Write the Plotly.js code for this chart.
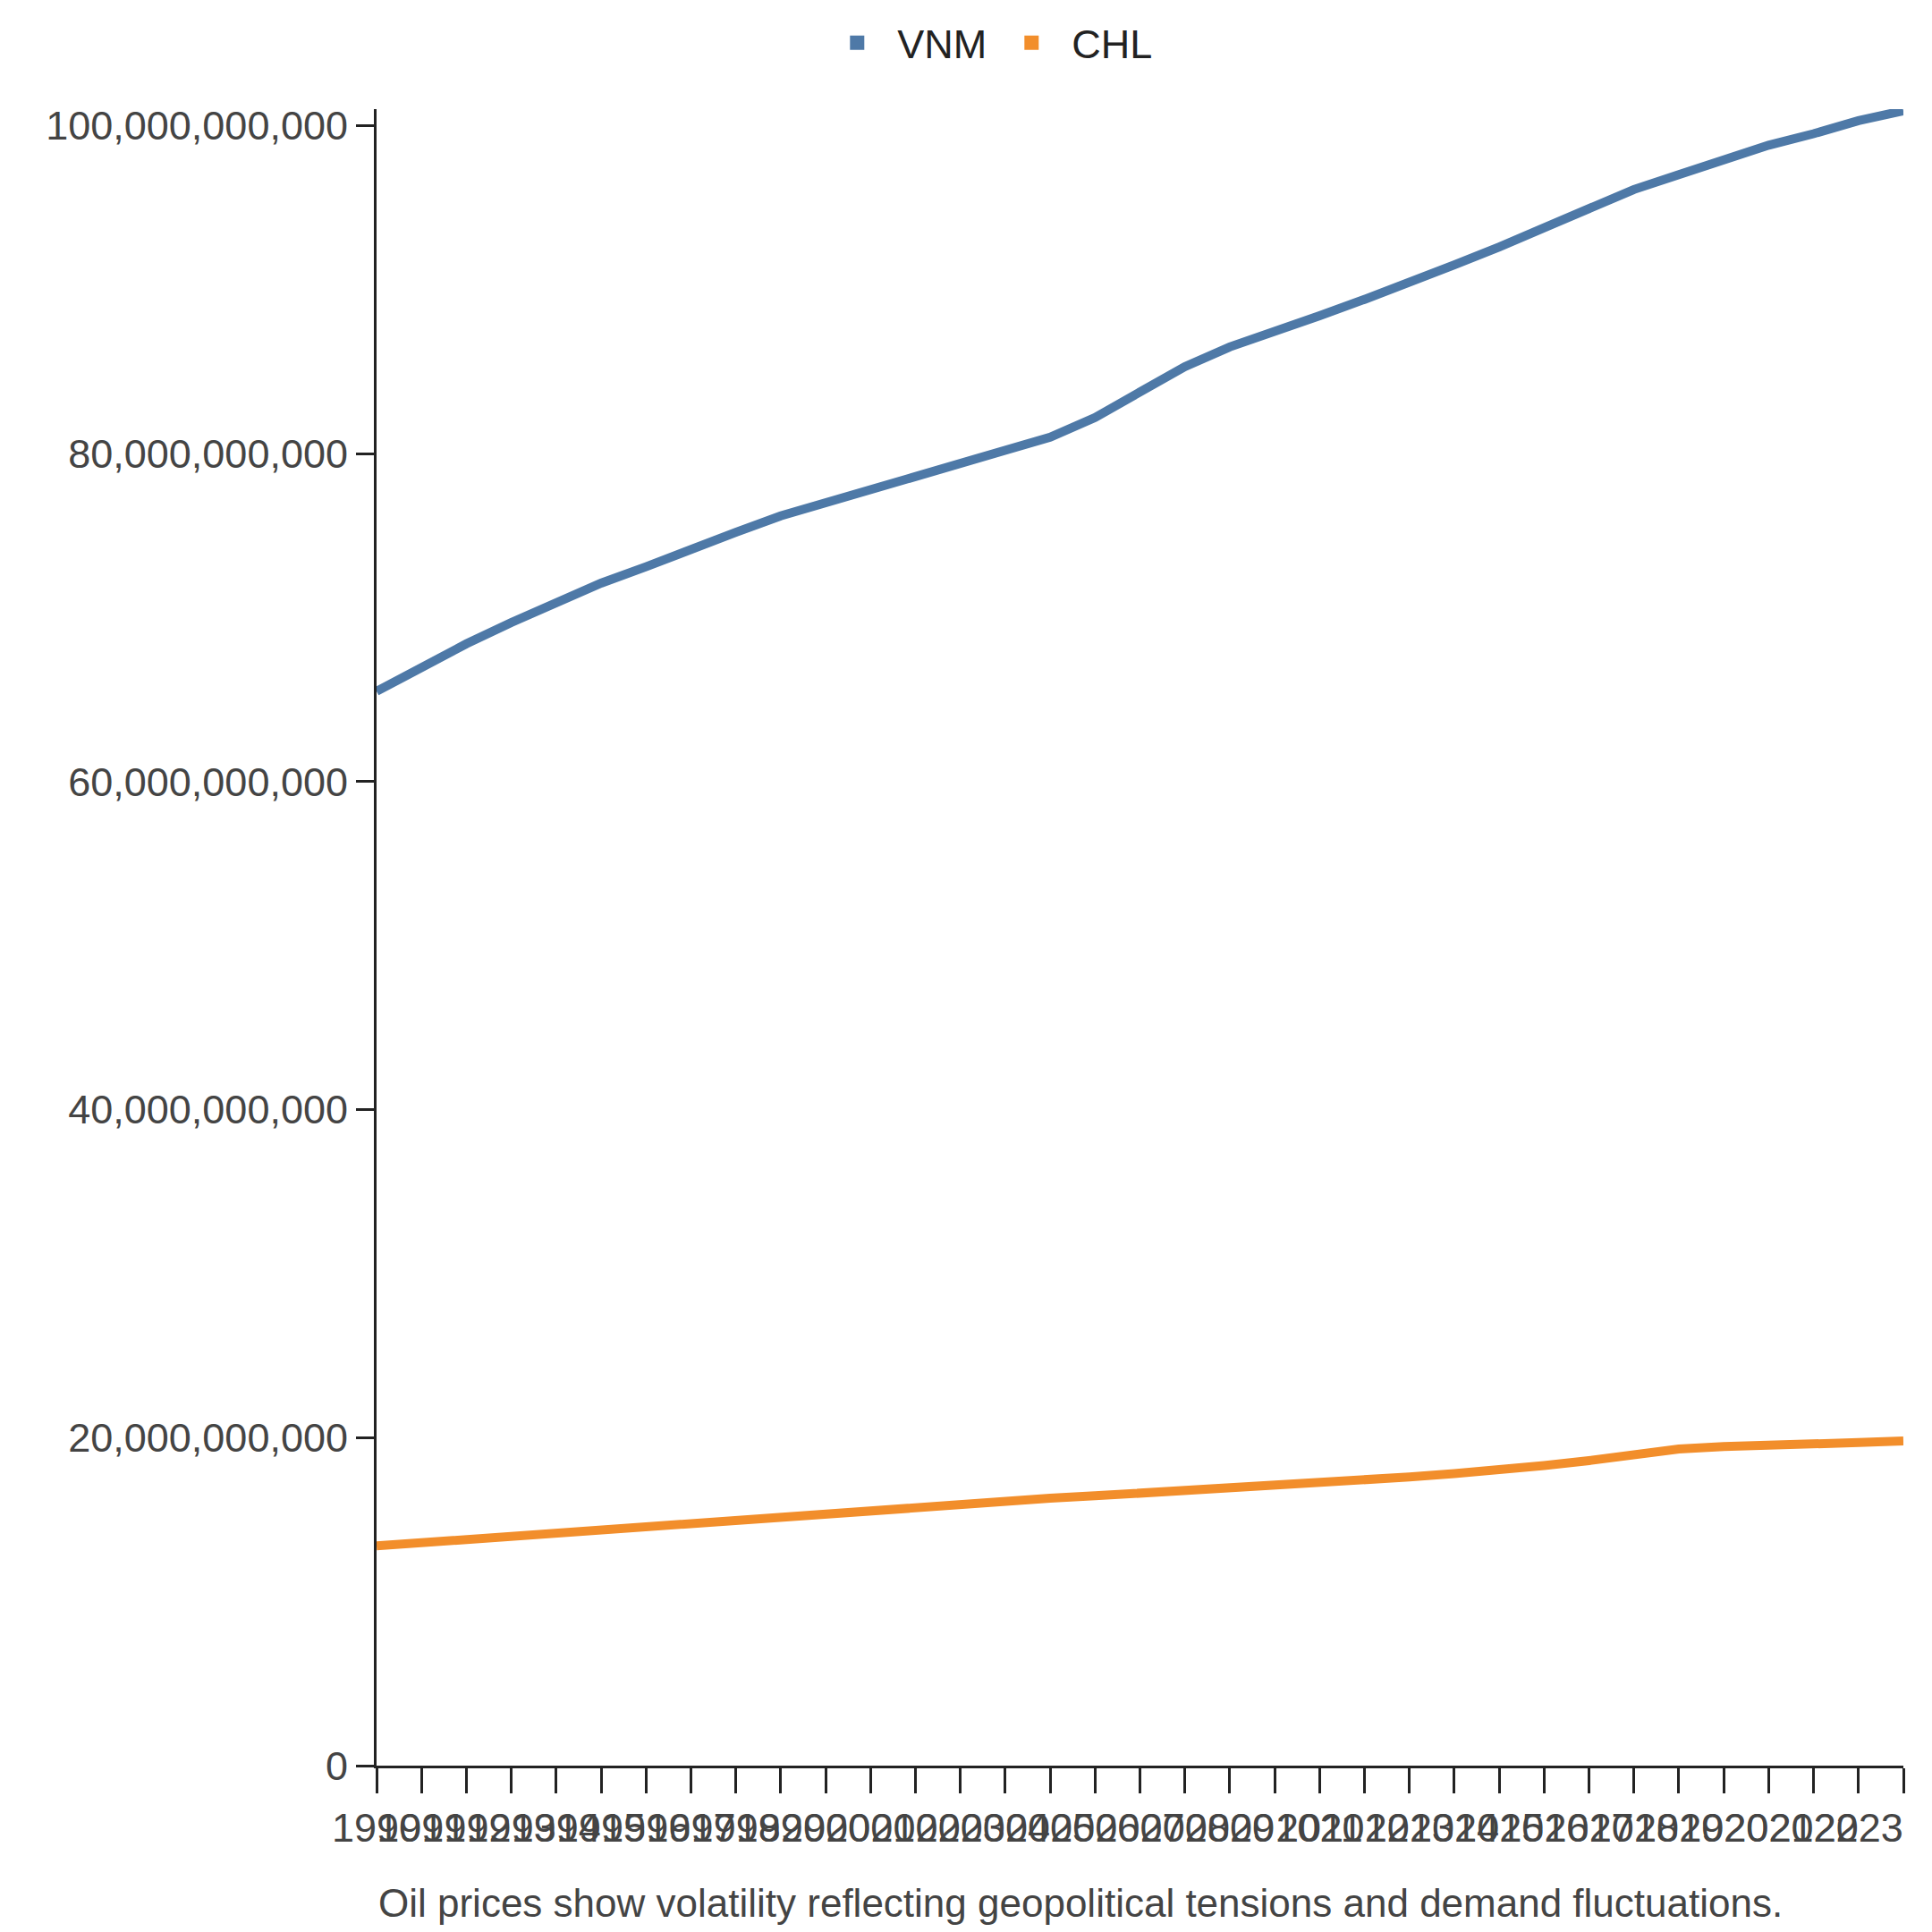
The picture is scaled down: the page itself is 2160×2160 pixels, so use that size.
<!DOCTYPE html>
<html>
<head>
<meta charset="utf-8">
<script src="https://cdn.plot.ly/plotly-3.0.1.min.js"></script>
<style>html,body{margin:0;padding:0;background:#fff}#chart{width:2160px;height:2160px}</style>
</head>
<body>
<div id="chart"></div>
<script>
const years = [];
for (let y = 1990; y <= 2024; y++) years.push(y);

// billions
const vnm = [65.5, 67.0, 68.4, 69.7, 70.9, 72.1, 73.1, 74.2, 75.2, 76.2, 77.0, 77.8, 78.6, 79.4, 80.2, 81.0,
  82.2, 83.7, 85.3, 86.5, 87.4, 88.4, 89.4, 90.4, 91.5, 92.6, 93.8, 95.0, 96.1, 97.0, 97.9, 98.8, 99.5, 100.3, 100.9];
const chl = [13.4, 13.6, 13.8, 14.0, 14.2, 14.4, 14.6, 14.8, 15.0, 15.2, 15.4, 15.6, 15.8, 15.9, 16.1, 16.3,
  16.45, 16.6, 16.8, 16.95, 17.1, 17.3, 17.45, 17.6, 17.8, 18.0, 18.3, 18.6, 19.0, 19.3, 19.45, 19.5, 19.6, 19.7, 19.8];

const caption = "Oil prices show volatility reflecting geopolitical tensions and demand fluctuations.";

const toUnits = a => a.map(v => v * 1e9);
const colors = { VNM: '#4e79a7', CHL: '#f28e2b' };

const lineTrace = (name, vals) => ({
  x: years, y: toUnits(vals), name, type: 'scatter', mode: 'lines',
  line: { color: colors[name], width: 10 }, showlegend: false, legendgroup: name
});
// legend entries shown as squares
const keyTrace = name => ({
  x: [null], y: [null], name, type: 'scatter', mode: 'markers',
  marker: { symbol: 'square', size: 34, color: colors[name] }, legendgroup: name
});

Plotly.newPlot('chart', [
  lineTrace('VNM', vnm), lineTrace('CHL', chl), keyTrace('VNM'), keyTrace('CHL')
], {
  width: 2160, height: 2160,
  margin: { l: 421, r: 32, t: 95, b: 186 },
  paper_bgcolor: '#fff', plot_bgcolor: '#fff',
  font: { family: 'Liberation Sans, Arial, sans-serif', size: 45, color: '#444' },
  showlegend: true,
  legend: { orientation: 'h', x: 0.4, xanchor: 'center', y: 1.04, yanchor: 'middle',
    font: { size: 45, color: '#222' }, itemwidth: 80, tracegroupgap: 40 },
  xaxis: {
    range: [1990, 2024], dtick: 1, tick0: 1990, showgrid: false, zeroline: false,
    showline: true, linecolor: '#222', linewidth: 3,
    ticks: 'outside', ticklen: 28, tickwidth: 3, tickcolor: '#222',
    tickangle: 0, tickfont: { size: 45, color: '#444' }
  },
  yaxis: {
    range: [0, 101e9], dtick: 20e9, showgrid: false, zeroline: false,
    showline: true, linecolor: '#222', linewidth: 3,
    ticks: 'outside', ticklen: 20, tickwidth: 3, tickcolor: '#222',
    tickformat: ',d', tickfont: { size: 45, color: '#444' }
  },
  annotations: [{
    text: caption, xref: 'paper', yref: 'paper', x: 0, xanchor: 'left',
    y: -0.083, yanchor: 'middle', showarrow: false, font: { size: 44, color: '#444' }
  }]
}, { displayModeBar: false });
</script>
</body>
</html>
